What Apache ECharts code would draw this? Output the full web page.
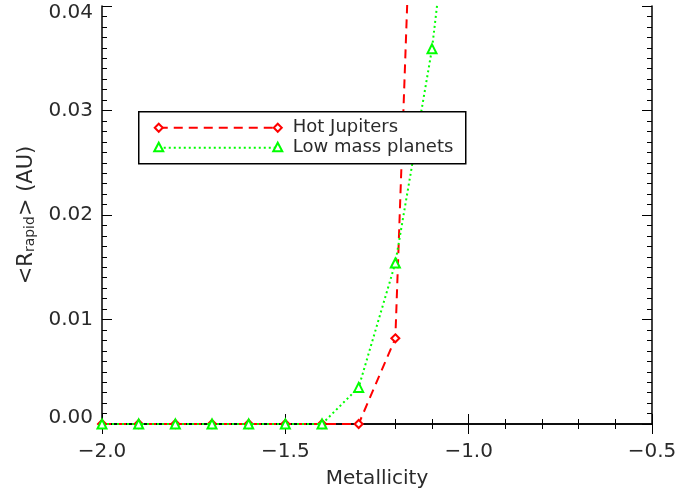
<!DOCTYPE html>
<html>
<head>
<meta charset="utf-8">
<script src="https://cdn.jsdelivr.net/npm/echarts@6/dist/echarts.min.js"></script>
<style>
  html, body { margin: 0; padding: 0; background: #fff; }
  #chart { width: 681px; height: 488px; }
</style>
</head>
<body>
<div id="chart"></div>
<script>
(() => {
    const FONT = "DejaVu Sans";
    const TEXT = "#2a2a2a";

    // metallicity grid
    const metallicity = [-2.0, -1.9, -1.8, -1.7, -1.6, -1.5, -1.4, -1.3, -1.2, -1.1, -1.0];
    const hotJupiters = [0, 0, 0, 0, 0, 0, 0, 0, 0.0082, 0.107];
    const lowMass = [0, 0, 0, 0, 0, 0, 0, 0.0035, 0.0154, 0.0359, 0.066];

    const X_MIN = -2.0, X_MAX = -0.5, Y_MIN = 0, Y_MAX = 0.04;

    function pairs(ys) {
        return ys.map((y, i) => [metallicity[i], y]);
    }

    function minus(s) {
        return s.replace('-', '\u2212');
    }

    let chart = echarts.init(document.getElementById('chart'));

    const tickStyle = { color: '#000', width: 1 };
    const lineStyle = { color: '#000', width: 1.5 };

    // bare axes that only carry inward ticks (major or minor)
    function tickAxis(min, max, interval, position, len, showLine) {
        return {
            type: 'value', min: min, max: max, interval: interval, position: position,
            axisLine: { show: showLine, lineStyle: lineStyle },
            axisTick: { inside: true, length: len, lineStyle: tickStyle },
            axisLabel: { show: false },
            splitLine: { show: false }
        };
    }

    let option = {
        animation: false,
        backgroundColor: '#fff',
        grid: { left: 102, right: 29, top: 6, bottom: 64, show: false, outerBoundsMode: 'none', containLabel: false },
        xAxis: [
            {
                type: 'value', min: X_MIN, max: X_MAX, interval: 0.5,
                name: 'Metallicity', nameLocation: 'middle', nameGap: 45,
                nameTextStyle: { fontFamily: FONT, fontSize: 20, color: TEXT },
                axisLine: { lineStyle: lineStyle },
                axisTick: { inside: true, length: 10, lineStyle: tickStyle },
                axisLabel: {
                    margin: 18, fontFamily: FONT, fontSize: 20, color: TEXT,
                    formatter: v => minus(v.toFixed(1))
                },
                splitLine: { show: false }
            },
            tickAxis(X_MIN, X_MAX, 0.5, 'top', 10, true),
            tickAxis(X_MIN, X_MAX, 0.1, 'bottom', 5, false),
            tickAxis(X_MIN, X_MAX, 0.1, 'top', 5, false)
        ],
        yAxis: [
            {
                type: 'value', min: Y_MIN, max: Y_MAX, interval: 0.01,
                name: '<R{sub|rapid}> (AU)', nameLocation: 'middle', nameGap: 60, nameRotate: 90,
                nameTextStyle: {
                    fontFamily: FONT, fontSize: 21, color: TEXT,
                    rich: { sub: { fontFamily: FONT, fontSize: 14, color: TEXT, verticalAlign: 'bottom', padding: [9, 0, 0, 0] } }
                },
                axisLine: { lineStyle: lineStyle },
                axisTick: { inside: true, length: 10, lineStyle: tickStyle },
                axisLabel: {
                    margin: 9, fontFamily: FONT, fontSize: 20, color: TEXT,
                    formatter: v => {
                        let s = v.toFixed(2);
                        if (v <= Y_MIN) return '{lo|' + s + '}';
                        if (v >= Y_MAX) return '{hi|' + s + '}';
                        return s;
                    },
                    rich: {
                        lo: { fontFamily: FONT, fontSize: 20, color: TEXT, padding: [0, 0, 12, 0] },
                        hi: { fontFamily: FONT, fontSize: 20, color: TEXT, padding: [14, 0, 0, 0] }
                    }
                },
                splitLine: { show: false }
            },
            tickAxis(Y_MIN, Y_MAX, 0.01, 'right', 10, true),
            tickAxis(Y_MIN, Y_MAX, 0.001, 'left', 5, false),
            tickAxis(Y_MIN, Y_MAX, 0.001, 'right', 5, false)
        ],
        series: [
            {
                name: 'Hot Jupiters', type: 'line',
                data: pairs(hotJupiters),
                symbol: 'emptyDiamond', symbolSize: 8,
                itemStyle: { color: '#ff0000', borderWidth: 2 },
                lineStyle: { color: '#ff0000', width: 2, type: [9, 6] },
                z: 3
            },
            {
                name: 'Low mass planets', type: 'line',
                data: pairs(lowMass),
                symbol: 'emptyTriangle', symbolSize: 9,
                itemStyle: { color: '#00ff00', borderWidth: 2 },
                lineStyle: { color: '#00ff00', width: 2, type: [2, 3] },
                z: 4
            }
        ],
        graphic: [
            {
                type: 'group', left: 138, top: 111, z: 100,
                children: [
                    { type: 'rect', shape: { x: 0, y: 0, width: 327, height: 52 },
                      style: { fill: '#fff', stroke: '#000', lineWidth: 1.5 }, z: 100 },
                    { type: 'line', shape: { x1: 20, y1: 16, x2: 139, y2: 16 },
                      style: { stroke: '#ff0000', lineWidth: 2, lineDash: [9, 6] }, z: 101 },
                    { type: 'polygon', shape: { points: [[20, 12], [24, 16], [20, 20], [16, 16]] },
                      style: { fill: '#fff', stroke: '#ff0000', lineWidth: 2 }, z: 102 },
                    { type: 'polygon', shape: { points: [[139, 12], [143, 16], [139, 20], [135, 16]] },
                      style: { fill: '#fff', stroke: '#ff0000', lineWidth: 2 }, z: 102 },
                    { type: 'text', x: 154, y: 16,
                      style: { text: 'Hot Jupiters', fontFamily: FONT, fontSize: 18, fill: TEXT, verticalAlign: 'middle' }, z: 102 },
                    { type: 'line', shape: { x1: 20, y1: 36, x2: 139, y2: 36 },
                      style: { stroke: '#00ff00', lineWidth: 2, lineDash: [2, 3] }, z: 101 },
                    { type: 'polygon', shape: { points: [[20, 31], [24.5, 39.5], [15.5, 39.5]] },
                      style: { fill: '#fff', stroke: '#00ff00', lineWidth: 2 }, z: 102 },
                    { type: 'polygon', shape: { points: [[139, 31], [143.5, 39.5], [134.5, 39.5]] },
                      style: { fill: '#fff', stroke: '#00ff00', lineWidth: 2 }, z: 102 },
                    { type: 'text', x: 154, y: 36,
                      style: { text: 'Low mass planets', fontFamily: FONT, fontSize: 18, fill: TEXT, verticalAlign: 'middle' }, z: 102 }
                ]
            }
        ]
    };
    chart.setOption(option);
})();
</script>
</body>
</html>
